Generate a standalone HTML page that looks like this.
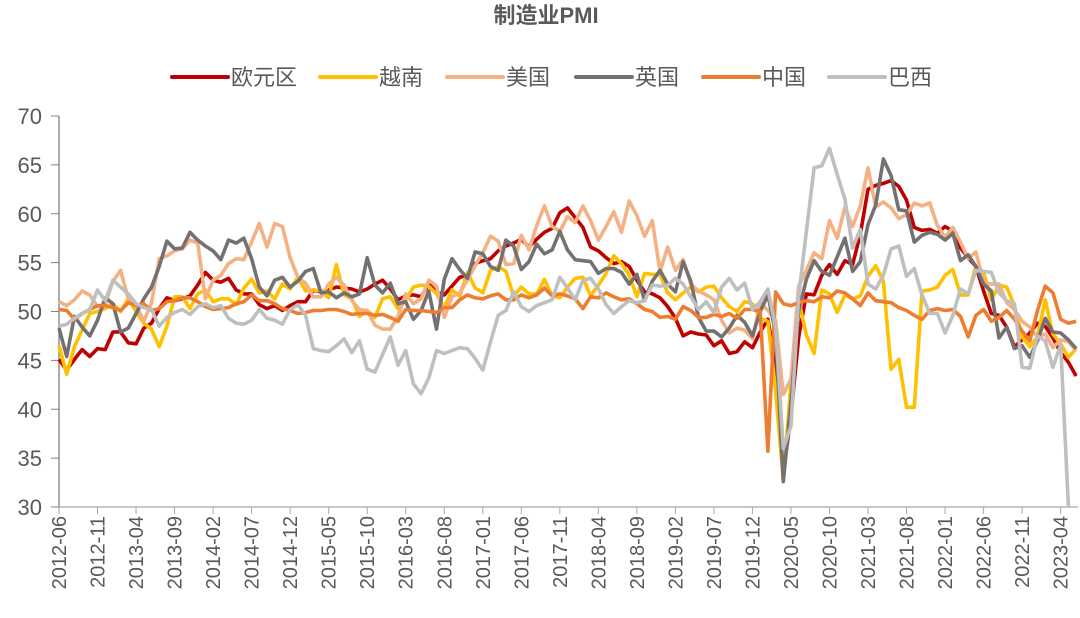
<!DOCTYPE html>
<html><head><meta charset="utf-8">
<style>
html,body{margin:0;padding:0;background:#fff;}
svg{display:block;font-family:"Liberation Sans","Noto Sans CJK SC",sans-serif;}
</style></head>
<body>
<svg id="chart" width="1080" height="618" viewBox="0 0 1080 618" xmlns="http://www.w3.org/2000/svg">
<text x="546" y="23" text-anchor="middle" font-size="22" font-weight="bold" fill="#595959">制造业PMI</text>
<g id="legend"></g>
<g id="axes"></g>
<g id="series"></g>
</svg>
<script>
const startYear = 2012, startMonth = 6, monthCount = 133;
const yTicks = [30,35,40,45,50,55,60,65,70];
const seriesNames = ["欧元区","越南","美国","英国","中国","巴西"];
const seriesColors = ["#C00000","#FFC000","#F4B183","#767171","#ED7D31","#BFBFBF"];
const euro = [45.1,44.0,45.1,46.1,45.4,46.2,46.1,
47.9,47.9,46.8,46.7,48.3,48.8,50.3,51.4,51.1,51.3,51.6,52.7,
54.0,53.2,53.0,53.4,52.2,51.8,51.8,50.7,50.3,50.6,50.1,50.6,
51.0,51.0,52.2,52.0,52.2,52.5,52.4,52.3,52.0,52.3,52.8,53.2,
52.3,51.2,51.6,51.7,51.5,52.8,52.0,51.7,52.6,53.5,53.7,54.9,
55.2,55.4,56.2,56.7,57.0,57.4,56.6,57.4,58.1,58.5,60.1,60.6,
59.6,58.6,56.6,56.2,55.5,54.9,55.1,54.6,53.2,52.0,51.8,51.4,
50.5,49.3,47.5,47.9,47.7,47.6,46.5,47.0,45.7,45.9,46.9,46.3,
47.9,49.2,44.5,33.4,39.4,47.4,51.8,51.7,53.7,54.8,53.8,55.2,
54.8,57.9,62.5,62.9,63.1,63.4,62.8,61.4,58.6,58.3,58.4,58.0,
58.7,58.2,56.5,55.5,54.6,52.1,49.8,49.6,48.4,46.4,47.1,47.8,
48.8,48.5,47.3,45.8,44.8,43.4];
const vietnam = [46.5,43.6,46.4,48.1,49.8,50.0,50.3,
50.8,50.0,51.3,50.0,48.8,48.2,46.4,48.5,51.5,51.5,50.3,51.8,
52.2,51.0,51.3,51.3,50.7,52.4,53.3,51.9,52.1,51.3,52.8,52.3,
53.5,52.1,52.2,52.1,51.4,54.8,51.7,51.3,49.5,50.1,49.4,51.3,
51.5,50.3,51.2,52.5,52.7,52.6,51.8,50.4,52.2,51.6,54.0,52.4,
51.9,54.2,54.6,54.1,51.6,52.5,51.8,51.8,53.3,51.6,51.4,52.5,
53.4,53.5,51.6,52.7,53.9,55.7,54.9,53.7,51.5,53.9,53.8,53.8,
51.9,51.2,51.9,52.5,52.0,52.5,52.6,51.4,50.5,50.0,51.0,50.8,
49.3,49.0,41.9,32.7,42.7,51.1,47.6,45.7,52.2,51.8,49.9,51.7,
51.3,51.6,53.6,54.7,53.1,44.1,45.1,40.2,40.2,52.1,52.2,52.5,
53.7,54.3,51.7,51.7,54.7,54.0,51.2,52.7,52.5,50.6,47.4,46.4,
47.4,51.2,47.7,46.7,45.3,46.2];
const usa = [51.0,50.6,51.2,52.1,51.7,50.5,50.7,
53.1,54.2,51.3,50.7,49.0,50.9,55.4,55.7,56.2,56.4,57.3,57.0,
51.3,53.2,53.7,54.9,55.4,55.3,57.1,59.0,56.6,59.0,58.7,55.5,
53.5,52.9,51.5,51.5,52.8,53.5,52.7,51.1,50.2,50.1,48.6,48.2,
48.2,49.5,51.8,50.8,51.3,53.2,52.6,49.4,51.5,51.9,53.2,54.7,
56.0,57.7,57.2,54.8,54.9,57.8,56.3,58.8,60.8,58.7,58.2,59.7,
59.1,60.8,59.3,57.3,58.7,60.2,58.1,61.3,59.8,57.7,59.3,54.1,
56.6,54.2,55.3,52.8,52.1,51.7,51.2,49.1,47.8,48.3,48.1,47.2,
50.9,50.1,49.1,41.5,43.1,52.6,54.2,56.0,55.4,59.3,57.5,60.7,
58.7,60.8,64.7,60.7,61.2,60.6,59.5,59.9,61.1,60.8,61.1,58.8,
57.6,58.6,57.1,55.4,56.1,53.0,52.8,52.8,50.9,50.2,49.0,48.4,
47.4,47.7,46.3,47.1,46.9,46.0];
const uk = [48.3,45.4,49.5,48.4,47.5,49.1,51.4,
50.8,47.9,48.3,49.8,51.3,52.5,54.6,57.2,56.4,56.5,58.1,57.3,
56.7,56.2,55.3,57.3,57.0,57.5,55.4,52.5,51.6,53.2,53.5,52.5,
53.1,54.1,54.4,51.9,52.0,51.4,51.9,51.5,51.8,55.5,52.7,51.9,
52.9,50.8,51.0,49.2,50.1,52.1,48.2,53.3,55.4,54.3,53.4,56.1,
55.9,54.6,54.2,57.3,56.7,54.3,55.1,56.9,55.9,56.3,58.2,56.3,
55.3,55.2,55.1,53.9,54.4,54.4,54.0,52.8,53.8,51.1,53.1,54.2,
52.8,52.0,55.1,53.1,49.4,48.0,48.0,47.4,48.3,49.6,48.9,47.5,
50.0,51.7,47.8,32.6,40.7,50.1,53.3,55.2,54.1,53.7,55.6,57.5,
54.1,55.1,58.9,60.9,65.6,63.9,60.4,60.3,57.1,57.8,58.1,57.9,
57.3,58.0,55.2,55.8,54.6,52.8,52.1,47.3,48.4,46.2,46.5,45.3,
47.0,49.3,47.9,47.8,47.1,46.2];
const china = [50.2,50.1,49.2,49.8,50.2,50.6,50.6,
50.4,50.1,50.9,50.6,50.8,50.1,50.3,51.0,51.1,51.4,51.4,51.0,
50.5,50.2,50.3,50.4,50.8,51.0,51.7,51.1,51.1,50.8,50.3,50.1,
49.8,49.9,50.1,50.1,50.2,50.2,50.0,49.7,49.8,49.8,49.6,49.7,
49.4,49.0,50.2,50.1,50.1,50.0,49.9,50.4,50.4,51.2,51.7,51.4,
51.3,51.6,51.8,51.2,51.2,51.7,51.4,51.7,52.4,51.6,51.8,51.6,
51.3,50.3,51.5,51.4,51.9,51.5,51.2,51.3,50.8,50.2,50.0,49.4,
49.5,49.2,50.5,50.1,49.4,49.4,49.7,49.5,49.8,49.3,50.2,50.2,
50.0,35.7,52.0,50.8,50.6,50.9,51.1,51.0,51.5,51.4,52.1,51.9,
51.3,50.6,51.9,51.1,51.0,50.9,50.4,50.1,49.6,49.2,50.1,50.3,
50.1,50.2,49.5,47.4,49.6,50.2,49.0,49.4,50.1,49.2,48.0,47.0,
50.1,52.6,51.9,49.2,48.8,49.0];
const brazil = [48.5,48.7,49.3,49.8,50.2,52.2,51.1,
53.2,52.5,51.8,50.8,50.4,50.2,48.5,49.4,49.9,50.2,49.7,50.5,
50.8,50.4,50.6,49.3,48.8,48.7,49.1,50.2,49.3,49.1,48.7,50.2,
50.7,49.6,46.2,46.0,45.9,46.5,47.2,45.8,47.0,44.1,43.8,45.6,
47.4,44.5,46.0,42.6,41.6,43.2,46.0,45.7,46.0,46.3,46.2,45.2,
44.0,46.9,49.6,50.1,52.0,50.5,50.0,50.6,50.9,51.2,53.5,52.4,
51.2,53.2,53.4,52.3,50.7,49.8,50.5,51.1,50.9,51.1,52.7,52.6,
52.7,53.4,52.8,51.5,50.2,51.0,49.9,52.5,53.4,52.2,52.9,50.2,
51.0,52.3,48.4,36.0,38.3,51.6,58.2,64.7,64.9,66.7,64.0,61.5,
56.5,58.4,52.8,52.3,53.7,56.4,56.7,53.6,54.4,51.7,49.8,49.8,
47.8,49.6,52.3,51.8,54.2,54.1,54.0,51.9,51.1,50.8,44.3,44.2,
47.5,47.0,44.3,46.6,30.0,null];
const allSeries = [euro, vietnam, usa, uk, china, brazil];

const NS = "http://www.w3.org/2000/svg";
const X0 = 59, DX = 7.705, Y30 = 507, Y70 = 116;
function xPos(i){ return X0 + i*DX; }
function yPos(v){ const c=Math.max(30,Math.min(70,v)); return Y30 - (c-30)*(Y30-Y70)/40; }
function mk(tag, attrs, parent){ const e=document.createElementNS(NS,tag); for(const k in attrs) e.setAttribute(k,attrs[k]); parent.appendChild(e); return e; }
function monthLabel(i){ const m=startMonth-1+i; const y=startYear+Math.floor(m/12); const mm=(m%12)+1; return y+"-"+(mm<10?"0":"")+mm; }

const axes=document.getElementById('axes');
yTicks.forEach(t=>{
  const tx=mk('text',{x:42,y:yPos(t)+8,'text-anchor':'end','font-size':22,fill:'#595959'},axes);
  tx.textContent=t;
  
  
  const tk=mk('line',{x1:51,x2:X0,y1:yPos(t),y2:yPos(t),stroke:'#7f7f7f','stroke-width':1},axes);
  
  
});
const ya=mk('line',{x1:X0,x2:X0,y1:Y70,y2:Y30,stroke:'#7f7f7f','stroke-width':1.3},axes);


const xa=mk('line',{x1:X0,x2:xPos(monthCount-1)+2,y1:Y30,y2:Y30,stroke:'#a6a6a6','stroke-width':1.3},axes);


for(let i=0;i<monthCount;i+=5){
  const x=xPos(i);
  const tk=mk('line',{x1:x,x2:x,y1:Y30,y2:Y30+7,stroke:'#a6a6a6','stroke-width':1},axes);
  
  
  const tx=mk('text',{x:0,y:0,'text-anchor':'end','font-size':20,fill:'#595959',transform:`translate(${x+7},${Y30+9}) rotate(-90)`},axes);
  tx.textContent=monthLabel(i);
  
  
}

const sg=document.getElementById('series');
allSeries.forEach((arr,si)=>{
  let d='';let pen=false;
  arr.forEach((v,i)=>{ if(v==null){pen=false;return;} d+=(pen?'L':'M')+xPos(i).toFixed(1)+','+yPos(v).toFixed(1); pen=true; });
  const p=mk('path',{d:d,fill:'none',stroke:seriesColors[si],'stroke-width':3.6,'stroke-linejoin':'round','stroke-linecap':'butt'},sg);
  
  
});

const lg=document.getElementById('legend');
const legendX=[172,320,447,576,703,829];
seriesNames.forEach((n,i)=>{
  const g=mk('g',{},lg);
  
  
  mk('line',{x1:legendX[i],x2:legendX[i]+56,y1:77,y2:77,stroke:seriesColors[i],'stroke-width':4,'stroke-linecap':'round'},g);
  const t=mk('text',{x:legendX[i]+59,y:85,'font-size':22,fill:'#595959'},g);
  t.textContent=n;
});
</script>
</body></html>
